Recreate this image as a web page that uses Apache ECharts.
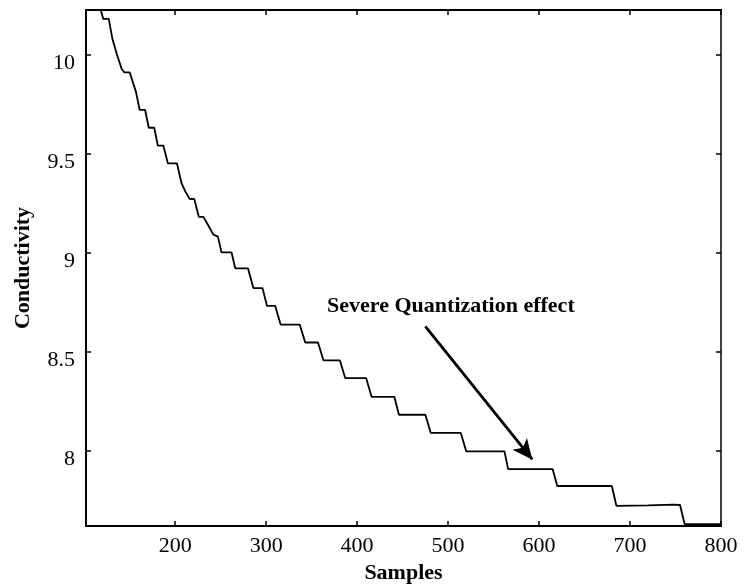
<!DOCTYPE html>
<html>
<head>
<meta charset="utf-8">
<title>Conductivity vs Samples</title>
<script src="https://cdn.jsdelivr.net/npm/echarts@6/dist/echarts.min.js"></script>
<style>
  html, body { margin: 0; padding: 0; background: #ffffff; }
  #chart { width: 745px; height: 585px; }
</style>
</head>
<body>
<div id="chart"></div>
<script>
// Sample index at each vertex of the measured conductivity trace
var samples = [
  117, 121, 127, 131, 136, 141, 144, 150, 157, 161, 167, 171, 177, 181, 187,
  192, 202, 207, 211, 216, 221, 226, 231, 236, 242, 247, 251, 262, 266, 280,
  286, 296, 301, 310, 316, 337, 343, 357, 363, 381, 387, 410, 416, 441, 446,
  475, 481, 514, 520, 562, 566, 615, 620, 680, 685, 720, 748, 755, 760, 800
];
// Conductivity reading at each vertex (quantized steps of ~0.09)
var conductivity = [
  10.245, 10.18, 10.18, 10.08, 10.00, 9.93, 9.91, 9.91, 9.81, 9.72, 9.72, 9.63, 9.63, 9.54, 9.54,
  9.45, 9.45, 9.35, 9.31, 9.27, 9.27, 9.18, 9.18, 9.14, 9.09, 9.08, 9.00, 9.00, 8.92, 8.92,
  8.82, 8.82, 8.73, 8.73, 8.635, 8.635, 8.545, 8.545, 8.455, 8.455, 8.365, 8.365, 8.27, 8.27, 8.18,
  8.18, 8.088, 8.088, 7.995, 7.995, 7.905, 7.905, 7.82, 7.82, 7.72, 7.722, 7.726, 7.724, 7.628, 7.627
];

// Axis ticks
var xTicks = [200, 300, 400, 500, 600, 700, 800];
var yTicks = [8, 8.5, 9, 9.5, 10];

// Annotation text and arrow
var noteText = 'Severe Quantization effect';
var noteAnchor = [367, 8.73];
var arrowFrom = [475, 8.627];
var arrowTo = [592.5, 7.954];

var xRange = [102, 800];
var yRange = [7.618, 10.225];

var serif = '"Liberation Serif", "DejaVu Serif", serif';

var lineData = samples.map(function (s, i) { return [s, conductivity[i]]; });

function boxAxis(extra) {
  var base = {
    type: 'value',
    axisLine: { show: true, onZero: false, lineStyle: { color: '#000', width: 2 } },
    axisTick: { show: true, inside: true, length: 5, lineStyle: { color: '#000', width: 1.5 } },
    splitLine: { show: false },
    axisLabel: { show: false }
  };
  for (var k in extra) base[k] = extra[k];
  return base;
}

var chart = echarts.init(document.getElementById('chart'), null, { renderer: 'canvas' });

chart.setOption({
  backgroundColor: '#ffffff',
  animation: false,
  grid: {
    left: 86, right: 24, top: 10, bottom: 59,
    containLabel: false,
    outerBoundsMode: 'none'
  },
  xAxis: [
    boxAxis({
      position: 'bottom',
      min: xRange[0], max: xRange[1],
      axisTick: { show: true, inside: true, length: 5, customValues: xTicks, lineStyle: { color: '#000', width: 1.5 } },
      axisLabel: {
        show: true, customValues: xTicks, margin: 9,
        color: '#000', fontFamily: serif, fontSize: 22
      },
      name: 'Samples',
      nameLocation: 'middle',
      nameGap: 36,
      nameTextStyle: { color: '#000', fontFamily: serif, fontSize: 22, fontWeight: 'bold' }
    }),
    boxAxis({
      position: 'top',
      min: xRange[0], max: xRange[1],
      axisTick: { show: true, inside: true, length: 5, customValues: xTicks, lineStyle: { color: '#000', width: 1.5 } }
    })
  ],
  yAxis: [
    boxAxis({
      position: 'left',
      min: yRange[0], max: yRange[1],
      axisTick: { show: true, inside: true, length: 5, customValues: yTicks, lineStyle: { color: '#000', width: 1.5 } },
      axisLabel: {
        show: true, customValues: yTicks, margin: 11,
        color: '#000', fontFamily: serif, fontSize: 22,
        verticalAlign: 'top', lineHeight: 17
      },
      name: 'Conductivity',
      nameLocation: 'middle',
      nameGap: 52,
      nameRotate: 90,
      nameTextStyle: { color: '#000', fontFamily: serif, fontSize: 22, fontWeight: 'bold' }
    }),
    boxAxis({
      position: 'right',
      min: yRange[0], max: yRange[1],
      axisLine: { show: true, onZero: false, lineStyle: { color: '#000', width: 1.5 } },
      axisTick: { show: true, inside: true, length: 5, customValues: yTicks, lineStyle: { color: '#000', width: 1.5 } }
    })
  ],
  series: [
    {
      type: 'line',
      xAxisIndex: 0,
      yAxisIndex: 0,
      data: lineData,
      showSymbol: false,
      symbol: 'none',
      clip: true,
      lineStyle: { color: '#000', width: 1.8 },
      markLine: {
        silent: true,
        symbol: ['none', 'arrow'],
        symbolSize: [14, 20],
        label: { show: false },
        lineStyle: { color: '#000', width: 2.8, type: 'solid' },
        data: [[{ coord: arrowFrom }, { coord: arrowTo }]]
      },
      markPoint: {
        silent: true,
        symbol: 'circle',
        symbolSize: 0,
        label: {
          show: true,
          position: 'right',
          distance: 0,
          formatter: noteText,
          color: '#000',
          fontFamily: serif,
          fontSize: 22,
          fontWeight: 'bold'
        },
        data: [{ coord: noteAnchor }]
      }
    }
  ]
});
</script>
</body>
</html>
